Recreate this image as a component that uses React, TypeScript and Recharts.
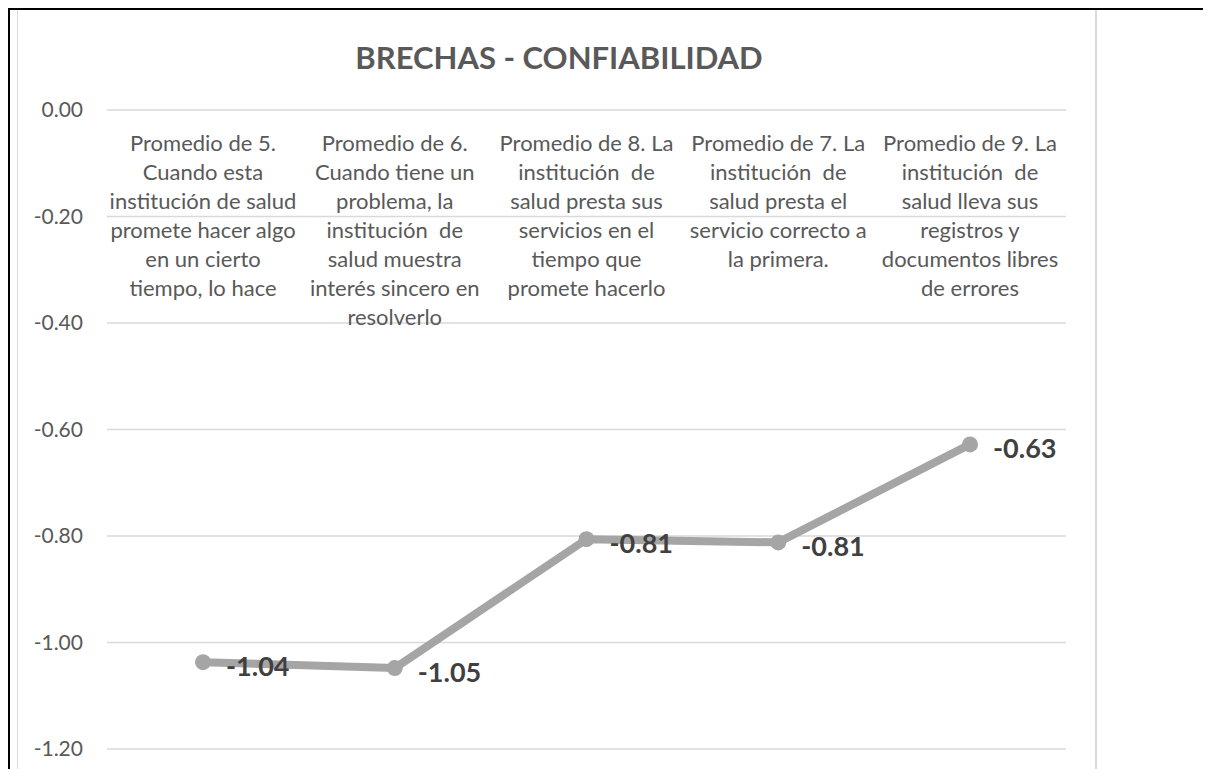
import { LineChart, Line, XAxis, YAxis, CartesianGrid, LabelList } from 'recharts';

const categories = [
  'Promedio de 5.\nCuando esta\ninstitución de salud\npromete hacer algo\nen un cierto\ntiempo, lo hace',
  'Promedio de 6.\nCuando tiene un\nproblema, la\ninstitución  de\nsalud muestra\ninterés sincero en\nresolverlo',
  'Promedio de 8. La\ninstitución  de\nsalud presta sus\nservicios en el\ntiempo que\npromete hacerlo',
  'Promedio de 7. La\ninstitución  de\nsalud presta el\nservicio correcto a\nla primera.',
  'Promedio de 9. La\ninstitución  de\nsalud lleva sus\nregistros y\ndocumentos libres\nde errores',
];
const brechas = [-1.037, -1.048, -0.806, -0.812, -0.628];
const yTicks = [0, -0.2, -0.4, -0.6, -0.8, -1.0, -1.2];

const data = categories.map((c, i) => ({ name: c, value: brechas[i] }));

const FONT = 'Lato, "Open Sans", sans-serif';
const PLOT_TOP = 100;

function CategoryTick(props: any) {
  const { x, payload } = props;
  const lines = String(payload.value).split('\n');
  return (
    <g>
      {lines.map((l, i) => (
        <text key={i} x={x} y={PLOT_TOP + 32 + i * 29} textAnchor="middle" dominantBaseline="central"
          fontFamily={FONT} fontSize={22} fill="#595959" style={{ whiteSpace: 'pre' }}>
          {l}
        </text>
      ))}
    </g>
  );
}

function ValueLabel(props: any) {
  const { x, y, value } = props;
  return (
    <text x={x + 23} y={y + 3} dominantBaseline="central" textAnchor="start"
      fontFamily={FONT} fontSize={27} fontWeight="bold" fill="#404040">
      {Number(value).toFixed(2)}
    </text>
  );
}

export default function App() {
  return (
    <div style={{ position: 'relative', width: 1203, height: 761, borderTop: '2px solid #000', borderLeft: '2px solid #000', background: '#fff' }}>
      <div style={{ position: 'absolute', left: 7, top: 0, width: 0, height: 759, borderLeft: '1px solid #d9d9d9' }} />
      <div style={{ position: 'absolute', left: 1085, top: 0, width: 0, height: 759, borderLeft: '2px solid #d9d9d9' }} />
      <div style={{ position: 'absolute', left: 6, top: 28, width: 1086, textAlign: 'center', fontFamily: FONT,
        fontSize: 31, fontWeight: 'bold', color: '#595959', lineHeight: '38px' }}>
        BRECHAS - CONFIABILIDAD
      </div>
      <div style={{ position: 'absolute', left: 0, top: 0 }}>
        <LineChart width={1086} height={759} data={data} margin={{ top: PLOT_TOP - 40, right: 30, bottom: 20, left: 0 }}>
          <CartesianGrid vertical={false} stroke="#d9d9d9" strokeWidth={1.5} />
          <XAxis dataKey="name" orientation="top" height={40} axisLine={false} tickLine={false} interval={0}
            padding={{ left: 96, right: 96 }} tick={CategoryTick} />
          <YAxis type="number" domain={[-1.2, 0]} ticks={yTicks} width={97} axisLine={false} tickLine={false}
            tickSize={0} tickMargin={24} tickFormatter={(v: number) => v.toFixed(2)}
            tick={{ fontFamily: FONT, fontSize: 21, fill: '#595959' }} />
          <Line type="linear" dataKey="value" stroke="#a5a5a5" strokeWidth={8} strokeLinejoin="round"
            dot={{ r: 8, fill: '#a5a5a5', stroke: 'none' }} isAnimationActive={false}>
            <LabelList dataKey="value" content={ValueLabel} />
          </Line>
        </LineChart>
      </div>
    </div>
  );
}
